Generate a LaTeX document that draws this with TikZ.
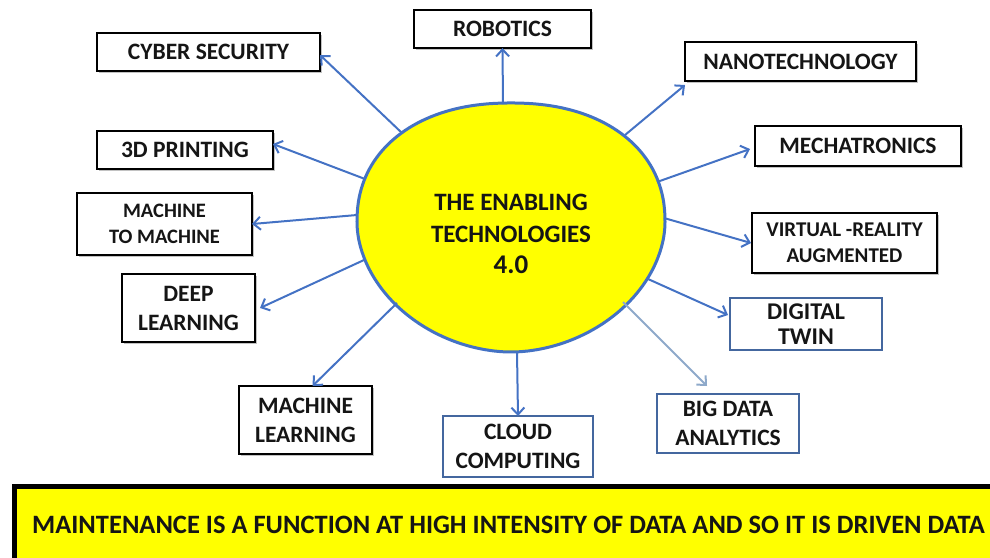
\documentclass[tikz,border=0pt]{standalone}
\usepackage{fontspec}
\setmainfont{Carlito}
\usetikzlibrary{arrows.meta,shadows}
\definecolor{arrowblue}{HTML}{4472C4}
\definecolor{lightarrow}{HTML}{8EA9CA}
\definecolor{boxblue}{HTML}{44679F}
\definecolor{txt}{HTML}{151515}
\definecolor{sun}{HTML}{FFFF00}
\tikzset{
  bx/.style={draw=black, line width=2.6pt, fill=white, align=center, inner sep=0pt, outer sep=0pt,
    text=txt, font=\bfseries\fontsize{23.5}{29}\selectfont,
    drop shadow={shadow xshift=1.5pt, shadow yshift=-1.5pt, fill=black!40, opacity=0.6}},
  bbx/.style={draw=boxblue, line width=2.4pt, fill=white, align=center, inner sep=0pt, outer sep=0pt,
    text=txt, font=\bfseries\fontsize{23.5}{29}\selectfont},
  arr/.style={draw=arrowblue, line width=2pt, -{Straight Barb[length=7pt,width=13pt]}},
  larr/.style={draw=lightarrow, line width=2pt, -{Straight Barb[length=7pt,width=13pt]}},
}
\begin{document}
\begin{tikzpicture}[x=1pt,y=-1pt]
\useasboundingbox (0,0) rectangle (990,557);
% centre shape (slightly egg-shaped ellipse)
\draw[draw=arrowblue, line width=3pt, fill=sun]
  plot[domain=0:180, samples=90, variable=\t]
    ({511+154*cos(\t)*(abs(cos(\t))+0.00001)^(-0.0909)}, {222-119*(abs(sin(\t))+0.00001)^(0.9091)})
  -- plot[domain=180:360, samples=90, variable=\t]
    ({511+154*cos(\t)*(abs(cos(\t))+0.00001)^(0.0526)}, {222+130*(abs(sin(\t))+0.00001)^(1.0526)})
  -- cycle;
\node[align=center, text=txt, font=\bfseries\fontsize{25}{31.5}\selectfont, inner sep=0pt] (c) at (511,234)
  {THE ENABLING\\TECHNOLOGIES\\{\fontsize{27}{31.5}\selectfont 4.0}};
% start points on the outline
\coordinate (s-cyber) at (402,133);
\coordinate (s-robot) at (503,104);
\coordinate (s-nano) at (625,135);
\coordinate (s-mecha) at (657,182);
\coordinate (s-virt) at (664,218);
\coordinate (s-twin) at (648,279);
\coordinate (s-big) at (623,302);
\coordinate (s-cloud) at (517,352);
\coordinate (s-ml) at (397,303);
\coordinate (s-deep) at (364,260);
\coordinate (s-m2m) at (357,215);
\coordinate (s-print) at (365,179);
% boxes
\node[bx, minimum width=223pt, minimum height=38pt] (cyber) at (208.5,52) {\raisebox{-2pt}{CYBER SECURITY}};
\node[bx, minimum width=177pt, minimum height=38pt] (robot) at (502.5,29) {\raisebox{-1.5pt}{ROBOTICS}};
\node[bx, minimum width=231pt, minimum height=39pt] (nano) at (800.5,61.5) {\raisebox{-1pt}{NANOTECHNOLOGY}};
\node[bx, minimum width=206pt, minimum height=40pt] (mecha) at (858,146) {\raisebox{-2pt}{MECHATRONICS}};
\node[bx, minimum width=185pt, minimum height=60pt, font=\bfseries\fontsize{21}{26}\selectfont] (virt) at (844.5,243) {VIRTUAL -REALITY\\AUGMENTED};
\node[bx, minimum width=176pt, minimum height=38pt] (print) at (185,150) {\raisebox{-2.5pt}{3D PRINTING}};
\node[bx, minimum width=175pt, minimum height=62pt, font=\bfseries\fontsize{20.5}{26}\selectfont] (m2m) at (164.5,224) {MACHINE\\TO MACHINE};
\node[bx, minimum width=133pt, minimum height=68pt] (deep) at (188.5,308) {DEEP\\LEARNING};
\node[bx, minimum width=133pt, minimum height=68pt] (ml) at (305.5,420) {MACHINE\\LEARNING};
\node[bbx, minimum width=150pt, minimum height=61pt, font=\bfseries\fontsize{23.5}{28.5}\selectfont] (cloud) at (518,446.5) {CLOUD\\COMPUTING};
\node[bbx, minimum width=142pt, minimum height=59pt, font=\bfseries\fontsize{23.5}{29.5}\selectfont] (big) at (728,423.5) {BIG DATA\\ANALYTICS};
\node[bbx, minimum width=152pt, minimum height=52pt, font=\bfseries\fontsize{24}{25}\selectfont] (twin) at (806,324) {DIGITAL\\TWIN};
% arrows
\draw[arr] (s-cyber) -- ([yshift=-3pt]cyber.east);
\draw[arr] (s-robot) -- (robot.south);
\draw[arr] (s-nano) -- ([yshift=-4pt]nano.south west);
\draw[arr] (s-mecha) -- ([xshift=-5pt,yshift=-3pt]mecha.west);
\draw[arr] (s-virt) -- ([xshift=-1pt]virt.west);
\draw[arr] (s-twin) -- ([xshift=-2pt,yshift=9pt]twin.west);
\draw[larr] (s-big) -- ([xshift=-21pt,yshift=8pt]big.north);
\draw[arr] (s-cloud) -- (cloud.north);
\draw[arr] (s-ml) -- ([xshift=7pt]ml.north);
\draw[arr] (s-deep) -- ([xshift=5pt]deep.east);
\draw[arr] (s-m2m) -- (m2m.east);
\draw[arr] (s-print) -- ([yshift=6pt]print.east);
% banner
\node[draw=black, line width=4.5pt, fill=sun, minimum width=1000pt, minimum height=80pt, anchor=north west, inner sep=0pt] (banner) at (12,484) {};
\node[anchor=west, text=txt, font=\bfseries\fontsize{26.5}{30}\selectfont, inner sep=0pt] (btext) at (32,525) {MAINTENANCE IS A FUNCTION AT HIGH INTENSITY OF DATA AND SO IT IS DRIVEN DATA};
\end{tikzpicture}
\end{document}
